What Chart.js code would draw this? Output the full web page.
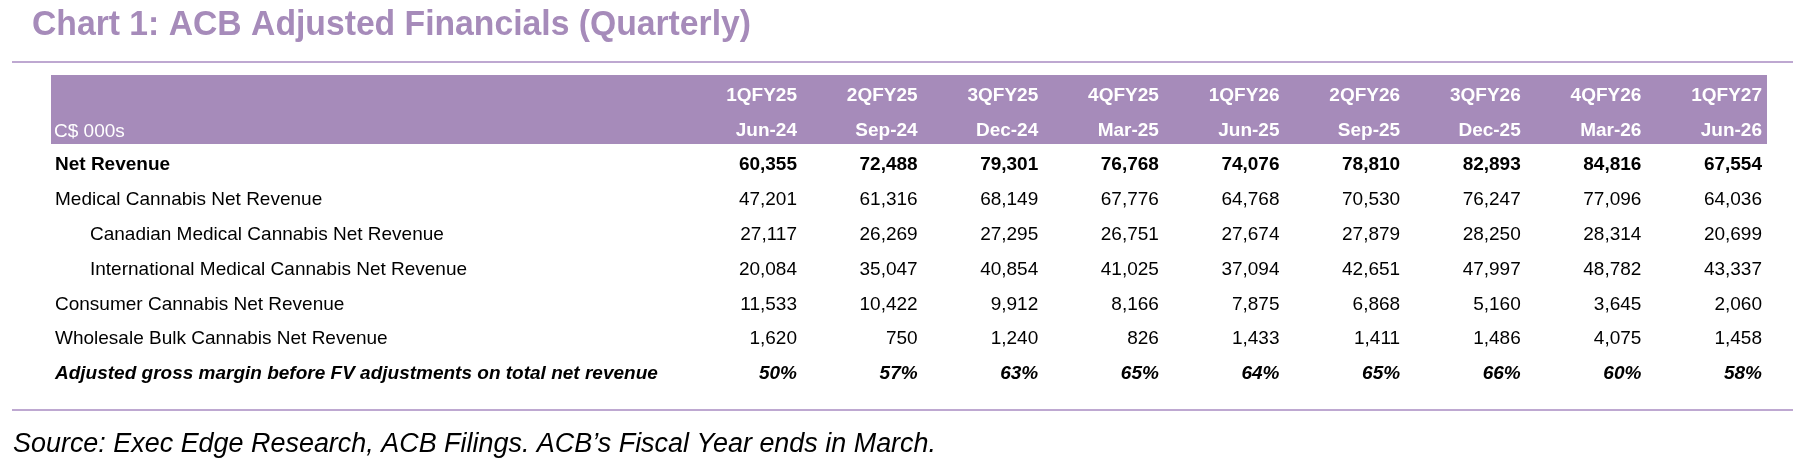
<!DOCTYPE html>
<html>
<head>
<meta charset="utf-8">
<title>ACB Adjusted Financials (Quarterly)</title>
<script src="https://cdn.jsdelivr.net/npm/chart.js@4.4.1/dist/chart.umd.min.js"></script>
<style>
  html, body { margin: 0; padding: 0; background: #ffffff; }
  #wrap { width: 1808px; height: 467px; position: relative; }
</style>
</head>
<body>
<div id="wrap"><canvas id="tableChart" width="1808" height="467"></canvas></div>
<script>
// --- Data (C$ 000s) ---
const quarters = ["1QFY25", "2QFY25", "3QFY25", "4QFY25", "1QFY26", "2QFY26", "3QFY26", "4QFY26", "1QFY27"];
const periods = ["Jun-24", "Sep-24", "Dec-24", "Mar-25", "Jun-25", "Sep-25", "Dec-25", "Mar-26", "Jun-26"];

const rowLabels = [
	"Net Revenue",
	"Medical Cannabis Net Revenue",
	"Canadian Medical Cannabis Net Revenue",
	"International Medical Cannabis Net Revenue",
	"Consumer Cannabis Net Revenue",
	"Wholesale Bulk Cannabis Net Revenue",
	"Adjusted gross margin before FV adjustments on total net revenue",
];

const netRevenue = [60355, 72488, 79301, 76768, 74076, 78810, 82893, 84816, 67554];
const medicalRevenue = [47201, 61316, 68149, 67776, 64768, 70530, 76247, 77096, 64036];
const canadianMedical = [27117, 26269, 27295, 26751, 27674, 27879, 28250, 28314, 20699];
const internationalMedical = [20084, 35047, 40854, 41025, 37094, 42651, 47997, 48782, 43337];
const consumerRevenue = [11533, 10422, 9912, 8166, 7875, 6868, 5160, 3645, 2060];
const wholesaleRevenue = [1620, 750, 1240, 826, 1433, 1411, 1486, 4075, 1458];
const grossMarginPct = [50, 57, 63, 65, 64, 65, 66, 60, 58];

const rowSeries = [netRevenue, medicalRevenue, canadianMedical, internationalMedical, consumerRevenue, wholesaleRevenue, grossMarginPct];

// --- Styling ---
const PURPLE = "#a68bba";
const LINE_PURPLE = "#a98cc2";
const FONT = "'Liberation Sans', Arial, Helvetica, sans-serif";
// per-row style: font weight/style, indent, value suffix
const rowStyle = [
	{ font: "bold 19px", indent: false, pct: false },
	{ font: "19px", indent: false, pct: false },
	{ font: "19px", indent: true, pct: false },
	{ font: "19px", indent: true, pct: false },
	{ font: "19px", indent: false, pct: false },
	{ font: "19px", indent: false, pct: false },
	{ font: "italic bold 19px", indent: false, pct: true },
];

function fmt(v, pct) {
	return pct ? v + "%" : v.toLocaleString("en-US");
}

// Plugin that paints the table: title, rules, header band and every cell,
// positioned by the chart's x (quarter) and y (row) scales.
const tablePainter = {
	id: "tablePainter",
	afterDraw(chart) {
		const ctx = chart.ctx;
		const xScale = chart.scales.x;
		ctx.save();

		// title (reference face is a bit narrow, so squeeze to its width)
		ctx.fillStyle = PURPLE;
		ctx.font = "bold 35px " + FONT;
		ctx.textAlign = "left";
		ctx.textBaseline = "alphabetic";
		ctx.fillText("Chart 1: ACB Adjusted Financials (Quarterly)", 32, 35, 719);

		// rules
		ctx.strokeStyle = LINE_PURPLE;
		ctx.lineWidth = 1.5;
		ctx.beginPath();
		ctx.moveTo(12, 62);
		ctx.lineTo(1793, 62);
		ctx.moveTo(12, 410);
		ctx.lineTo(1793, 410);
		ctx.stroke();

		// header band
		ctx.fillStyle = PURPLE;
		ctx.fillRect(51, 75, 1716, 69);

		ctx.fillStyle = "#ffffff";
		ctx.font = "19px " + FONT;
		ctx.fillText("C$ 000s", 54, 137);

		ctx.font = "bold 19px " + FONT;
		ctx.textAlign = "right";
		quarters.forEach((q, i) => {
			const x = xScale.getPixelForValue(i);
			ctx.fillText(q, x, 101);
			ctx.fillText(periods[i], x, 136);
		});

		// rows
		chart.data.datasets.forEach((ds, r) => {
			const meta = chart.getDatasetMeta(r);
			const st = rowStyle[r];
			ctx.fillStyle = "#000000";
			ctx.font = st.font + " " + FONT;
			ctx.textBaseline = "middle";
			const y0 = meta.data[0].y;
			ctx.textAlign = "left";
			ctx.fillText(ds.label, st.indent ? 90 : 55, y0);
			ctx.textAlign = "right";
			meta.data.forEach((pt, i) => {
				ctx.fillText(fmt(ds.data[i].v, st.pct), pt.x, pt.y);
			});
		});

		// source note
		ctx.font = "italic 27px " + FONT;
		ctx.textAlign = "left";
		ctx.textBaseline = "alphabetic";
		ctx.fillText("Source: Exec Edge Research, ACB Filings. ACB\u2019s Fiscal Year ends in March.", 13, 452, 923);

		ctx.restore();
	},
};

const datasets = rowLabels.map((label, r) => ({
	label: label,
	data: rowSeries[r].map((v, i) => ({ x: quarters[i], y: r, v: v })),
	pointRadius: 0,
	pointHoverRadius: 0,
	showLine: false,
}));

new Chart(document.getElementById("tableChart"), {
	type: "scatter",
	data: { datasets: datasets },
	options: {
		responsive: false,
		animation: false,
		events: [],
		layout: {
			autoPadding: false,
			padding: { left: 797, right: 46, top: 165, bottom: 93 },
		},
		scales: {
			x: { type: "category", labels: quarters, display: false, offset: false },
			y: { type: "linear", min: 0, max: rowLabels.length - 1, reverse: true, display: false },
		},
		plugins: {
			legend: { display: false },
			tooltip: { enabled: false },
		},
	},
	plugins: [tablePainter],
});
</script>
</body>
</html>
